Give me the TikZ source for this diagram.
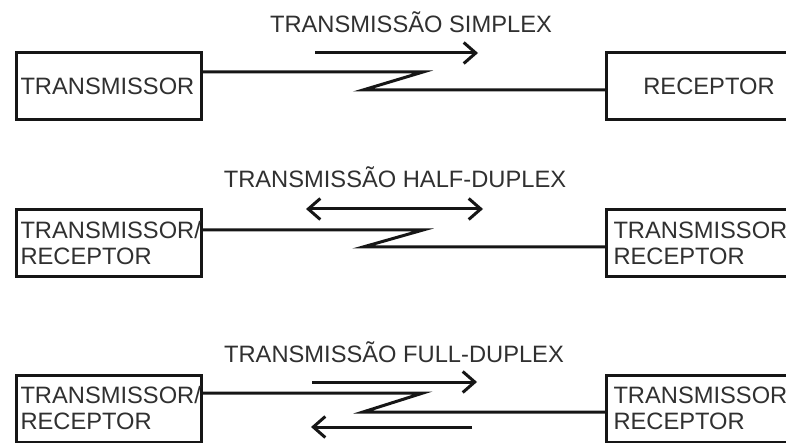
\documentclass[tikz,border=0pt]{standalone}
\usepackage{fontspec}
\setmainfont{Liberation Sans}
\usetikzlibrary{arrows.meta}
\definecolor{ink}{HTML}{161616}
\definecolor{txt}{HTML}{303030}
\begin{document}
\begin{tikzpicture}[x=1pt,y=-1pt,
  every node/.style={font=\fontsize{23.7}{26}\selectfont, text=txt},
  unitbox/.style={draw=ink, line width=3pt, minimum width=185pt, minimum height=67pt,
    inner xsep=4pt, inner ysep=0pt, anchor=west},
  leftbox/.style={unitbox, text width=177pt, align=left},
  rightbox/.style={unitbox, inner xsep=7pt, minimum width=205pt, text width=191pt, align=left},
  title/.style={inner sep=0pt},
  wire/.style={draw=ink, line width=3pt, line join=miter},
  flow/.style={draw=ink, line width=3pt, -{Straight Barb[length=12pt,width=21pt,line width=3pt]}},
  flowboth/.style={draw=ink, line width=3pt, {Straight Barb[length=12pt,width=21pt,line width=3pt]}-{Straight Barb[length=12pt,width=21pt,line width=3pt]}}
]
\useasboundingbox (0,0) rectangle (786,443);

% ---- simplex ----
\node[title] (t1) at (411,22) {TRANSMISSÃO SIMPLEX};
\node[leftbox] (tx1) at (15,86.5) {TRANSMISSOR};
\node[unitbox, minimum width=205pt, align=center] (rx1) at (605,86.5) {RECEPTOR};
\coordinate (z1a) at (423,72);
\coordinate (z1b) at (363,90);
\draw[wire] (tx1.east |- z1a) -- (z1a) -- (z1b) -- (z1b -| rx1.west);
\coordinate (a1s) at (315,53);
\coordinate (a1e) at (478,53);
\draw[flow] (a1s) -- (a1e);

% ---- half-duplex ----
\node[title] (t2) at (395,177) {TRANSMISSÃO HALF-DUPLEX};
\node[leftbox] (tx2) at (15,243.5) {TRANSMISSOR/\\RECEPTOR};
\node[rightbox] (rx2) at (605,243.5) {TRANSMISSOR/\\RECEPTOR};
\coordinate (z2a) at (423,230);
\coordinate (z2b) at (363,247);
\draw[wire] (tx2.east |- z2a) -- (z2a) -- (z2b) -- (z2b -| rx2.west);
\coordinate (a2s) at (306,209);
\coordinate (a2e) at (483,209);
\draw[flowboth] (a2s) -- (a2e);

% ---- full-duplex ----
\node[title] (t3) at (394,352) {TRANSMISSÃO FULL-DUPLEX};
\node[leftbox] (tx3) at (15,408.5) {TRANSMISSOR/\\RECEPTOR};
\node[rightbox] (rx3) at (605,408.5) {TRANSMISSOR/\\RECEPTOR};
\coordinate (z3a) at (423,393);
\coordinate (z3b) at (363,412);
\draw[wire] (tx3.east |- z3a) -- (z3a) -- (z3b) -- (z3b -| rx3.west);
\coordinate (a3s) at (312,382);
\coordinate (a3e) at (477,382);
\draw[flow] (a3s) -- (a3e);
\coordinate (b3s) at (472,427);
\coordinate (b3e) at (311,427);
\draw[flow] (b3s) -- (b3e);
\end{tikzpicture}
\end{document}
